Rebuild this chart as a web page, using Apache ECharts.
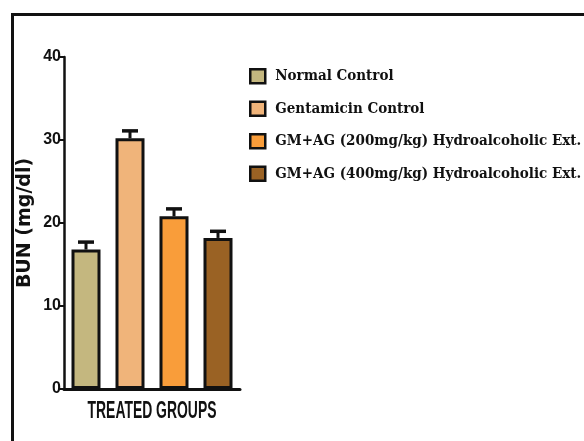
<!DOCTYPE html>
<html>
<head>
<meta charset="utf-8">
<script src="https://cdn.jsdelivr.net/npm/echarts@6/dist/echarts.min.js"></script>
<style>
  html, body { margin: 0; padding: 0; background: #fff; }
  #chart { width: 584px; height: 441px; }
</style>
</head>
<body>
<div id="chart"></div>
<script>
// BUN levels per treatment group (mean ± SEM)
const groups = [
  'Normal Control',
  'Gentamicin Control',
  'GM+AG (200mg/kg) Hydroalcoholic Ext.',
  'GM+AG (400mg/kg) Hydroalcoholic Ext.'
];
const bunMean = [16.8, 30.2, 20.8, 18.2];
const bunSem = [0.9, 0.9, 0.9, 0.8];
const barColors = ['#c4b77f', '#f0b47a', '#f99d3a', '#9a6224'];
const yTicks = [0, 10, 20, 30, 40];
const xTitle = 'TREATED GROUPS';
const yTitle = 'BUN (mg/dl)';

const ink = '#111';
const sansBold = '"Liberation Sans", Arial, sans-serif';

// one bar series per group so each gets its own legend entry;
// a shared stack keeps every bar centred in its own category slot
const barSeries = groups.map((name, i) => ({
  name: name,
  type: 'bar',
  stack: 'groups',
  barWidth: 29,
  data: groups.map((_, j) => (j === i ? bunMean[j] : null)),
  itemStyle: { color: barColors[i], borderColor: ink, borderWidth: 3 },
  z: 2
}));

// upper error bars drawn from the same axis scales
const errorSeries = {
  type: 'custom',
  name: 'sem',
  data: bunMean.map((m, i) => [i, m, m + bunSem[i]]),
  z: 5,
  renderItem: function (params, api) {
    const base = api.coord([api.value(0), api.value(1)]);
    const top = api.coord([api.value(0), api.value(2)]);
    const half = 8;
    return {
      type: 'group',
      children: [
        { type: 'line', shape: { x1: base[0], y1: base[1], x2: top[0], y2: top[1] },
          style: { stroke: ink, lineWidth: 3 } },
        { type: 'line', shape: { x1: top[0] - half, y1: top[1], x2: top[0] + half, y2: top[1] },
          style: { stroke: ink, lineWidth: 3.5 } }
      ]
    };
  }
};

const chart = echarts.init(document.getElementById('chart'));
chart.setOption({
  animation: false,
  backgroundColor: '#fff',
  grid: { left: 64, right: 344, top: 57, bottom: 52, containLabel: false },
  legend: {
    data: groups,
    orient: 'vertical',
    left: 249,
    top: 68,
    padding: 0,
    itemWidth: 15,
    itemHeight: 14,
    itemGap: 16,
    icon: 'rect',
    selectedMode: false,
    itemStyle: { borderColor: ink, borderWidth: 2.5 },
    textStyle: {
      fontFamily: '"DejaVu Serif Condensed", "DejaVu Serif", serif',
      fontWeight: 'bold',
      fontSize: 15,
      color: ink,
      padding: [0, 0, 0, 5]
    }
  },
  xAxis: {
    type: 'category',
    data: groups,
    axisLine: { lineStyle: { color: ink, width: 3 } },
    axisTick: { show: false },
    axisLabel: { show: false },
    splitLine: { show: false }
  },
  yAxis: {
    type: 'value',
    min: yTicks[0],
    max: yTicks[yTicks.length - 1],
    interval: 10,
    name: yTitle,
    nameLocation: 'middle',
    nameGap: 29,
    nameTextStyle: {
      fontFamily: '"DejaVu Sans", sans-serif', fontWeight: 'bold', fontSize: 19, color: ink
    },
    axisLine: { show: true, lineStyle: { color: ink, width: 2.5 } },
    axisTick: { show: true, length: 5, lineStyle: { color: ink, width: 2 } },
    axisLabel: {
      fontFamily: sansBold, fontWeight: 'bold', fontSize: 16, color: ink, margin: 3
    },
    splitLine: { show: false }
  },
  graphic: [
    {
      // outer frame
      type: 'rect',
      left: 10, top: 12,
      shape: { width: 620, height: 480 },
      style: { fill: 'none', stroke: ink, lineWidth: 3 },
      silent: true
    },
    {
      // condensed x-axis title under the bars
      type: 'text',
      x: 152, y: 399,
      scaleX: 0.58,
      style: {
        text: xTitle,
        font: 'bold 24px "Liberation Sans", Arial, sans-serif',
        fill: ink,
        textAlign: 'center',
        textVerticalAlign: 'top'
      },
      silent: true
    }
  ],
  series: barSeries.concat([errorSeries])
});
</script>
</body>
</html>
